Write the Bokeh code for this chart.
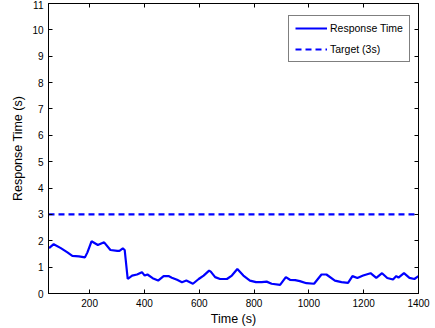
from bokeh.plotting import figure
from bokeh.models import LinearAxis, FixedTicker, Range1d, Legend, LegendItem
from bokeh.embed import file_html
from bokeh.resources import INLINE

time_s = [52, 69, 95, 119, 137, 161, 183, 192, 207, 230, 253, 276, 301, 309, 321, 328,
          339, 355, 373, 391, 401, 411, 430, 450, 470, 488, 500, 519, 537, 553, 577,
          598, 616, 636, 642, 658, 676, 701, 719, 739, 761, 785, 807, 828, 846, 864,
          895, 916, 931, 950, 967, 991, 1019, 1046, 1064, 1095, 1119, 1143, 1159, 1177,
          1198, 1225, 1246, 1267, 1286, 1307, 1319, 1327, 1347, 1367, 1385, 1400]
response_s = [1.72, 1.87, 1.72, 1.56, 1.43, 1.41, 1.37, 1.56, 1.98, 1.84, 1.94, 1.65, 1.62,
              1.62, 1.71, 1.65, 0.55, 0.68, 0.72, 0.81, 0.68, 0.72, 0.58, 0.49, 0.66, 0.66,
              0.6, 0.52, 0.43, 0.49, 0.37, 0.55, 0.68, 0.87, 0.83, 0.62, 0.55, 0.55, 0.68,
              0.93, 0.68, 0.49, 0.43, 0.43, 0.45, 0.37, 0.33, 0.62, 0.52, 0.51, 0.47, 0.39,
              0.37, 0.72, 0.72, 0.49, 0.43, 0.40, 0.66, 0.59, 0.68, 0.77, 0.59, 0.77, 0.59,
              0.53, 0.66, 0.60, 0.77, 0.59, 0.55, 0.66]
target_s = 3
x_start, x_end = 50, 1400
y_start, y_end = 0, 11
x_ticks = [200, 400, 600, 800, 1000, 1200, 1400]
y_ticks = list(range(0, 12))

FONT = "Liberation Sans"

p = figure(width=435, height=328, output_backend="svg", toolbar_location=None,
           x_range=Range1d(x_start, x_end), y_range=Range1d(y_start, y_end),
           min_border_left=48, min_border_right=17, min_border_top=3, min_border_bottom=33)
p.grid.visible = False
p.outline_line_color = "black"
p.outline_line_width = 1
p.background_fill_color = "white"
p.border_fill_color = "white"

r1 = p.line(time_s, response_s, line_color="#0000ff", line_width=2.2)
r2 = p.line([x_start, x_end], [target_s, target_s], line_color="#0000ff", line_width=2.2,
            line_dash="6 4")

def style(ax, labels=True):
    ax.major_tick_in = 4
    ax.major_tick_out = 0
    ax.minor_tick_line_color = None
    ax.axis_line_color = "black"
    ax.axis_line_width = 1
    ax.major_tick_line_color = "black"
    ax.major_label_text_font = FONT
    ax.major_label_text_color = "black"
    ax.axis_label_text_font = FONT
    ax.axis_label_text_font_style = "normal"
    ax.axis_label_text_color = "black"
    if labels:
        ax.major_label_text_font_size = "10px"
        ax.axis_label_text_font_size = "12.5px"
        ax.major_label_standoff = 5
        ax.axis_label_standoff = 4
    else:
        ax.major_label_text_font_size = "1px"
        ax.major_label_text_color = None
        ax.major_label_text_alpha = 0
        ax.major_label_standoff = 0
        ax.axis_label = None

p.xaxis.ticker = FixedTicker(ticks=x_ticks)
p.yaxis.ticker = FixedTicker(ticks=y_ticks)
p.xaxis.axis_label = "Time (s)"
p.yaxis.axis_label = "Response Time (s)"
style(p.xaxis[0])
style(p.yaxis[0])
p.xaxis[0].axis_label_standoff = 2

top = LinearAxis(ticker=FixedTicker(ticks=x_ticks))
right = LinearAxis(ticker=FixedTicker(ticks=y_ticks))
style(top, False)
style(right, False)
p.add_layout(top, "above")
p.add_layout(right, "right")

legend = Legend(items=[LegendItem(label="Response Time", renderers=[r1]),
                       LegendItem(label="Target (3s)", renderers=[r2])],
                location=(240, 231))
legend.border_line_color = "black"
legend.border_line_width = 1
legend.label_text_font = FONT
legend.label_text_font_size = "10.5px"
legend.label_text_color = "black"
legend.glyph_width = 32
legend.glyph_height = 10
legend.label_height = 10
legend.spacing = 9
legend.padding = 6
legend.margin = 0
legend.label_standoff = 3
legend.background_fill_alpha = 1
p.add_layout(legend)

open("out.html", "w").write(file_html(p, INLINE))
